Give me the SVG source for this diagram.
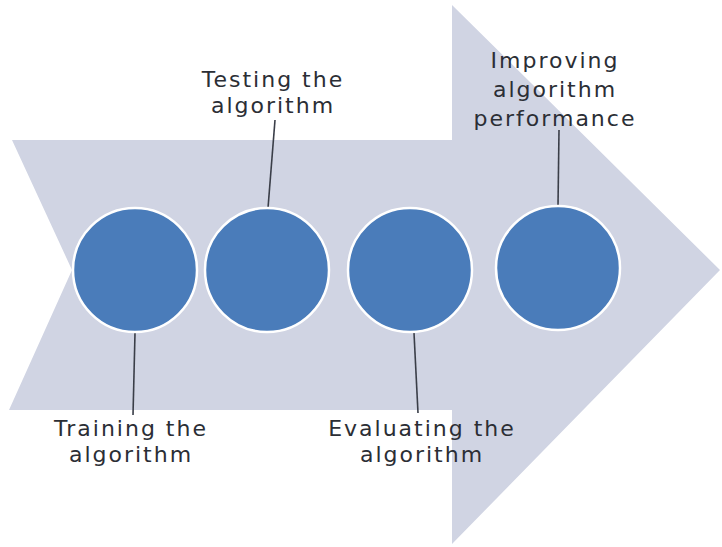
<svg xmlns="http://www.w3.org/2000/svg" width="722" height="547" viewBox="0 0 722 547">
<style>
.arrow{fill:#d0d4e3;}
.node{fill:#4a7cba;stroke:#ffffff;stroke-width:2.5;}
.lbl{font-family:"DejaVu Sans","Liberation Sans",sans-serif;font-size:22px;letter-spacing:2px;fill:#2b2e35;text-anchor:middle;}
.conn{stroke:#3a3e48;stroke-width:1.6;fill:none;}
</style>
<rect width="722" height="547" fill="#ffffff"/>
<polygon id="arrow" class="arrow" points="12,140 452,140 452,5 720,270 452,544 452,410 9,410 72,270"/>
<g id="connectors">
<line class="conn" x1="135" y1="333" x2="133" y2="415"/>
<line class="conn" x1="275" y1="120" x2="268" y2="208"/>
<line class="conn" x1="414" y1="333" x2="418" y2="413"/>
<line class="conn" x1="559" y1="130" x2="558" y2="206"/>
</g>
<g id="node-training">
<circle class="node" cx="135" cy="270" r="62"/>
<text class="lbl" x="131" y="436">Training the</text>
<text class="lbl" x="131" y="462">algorithm</text>
</g>
<g id="node-testing">
<circle class="node" cx="267" cy="270" r="62"/>
<text class="lbl" x="273" y="87">Testing the</text>
<text class="lbl" x="273" y="113">algorithm</text>
</g>
<g id="node-evaluating">
<circle class="node" cx="410" cy="270" r="62"/>
<text class="lbl" x="422" y="436">Evaluating the</text>
<text class="lbl" x="422" y="462">algorithm</text>
</g>
<g id="node-improving">
<circle class="node" cx="558" cy="268" r="62"/>
<text class="lbl" x="555" y="68">Improving</text>
<text class="lbl" x="555" y="97">algorithm</text>
<text class="lbl" x="555" y="126">performance</text>
</g>
</svg>
